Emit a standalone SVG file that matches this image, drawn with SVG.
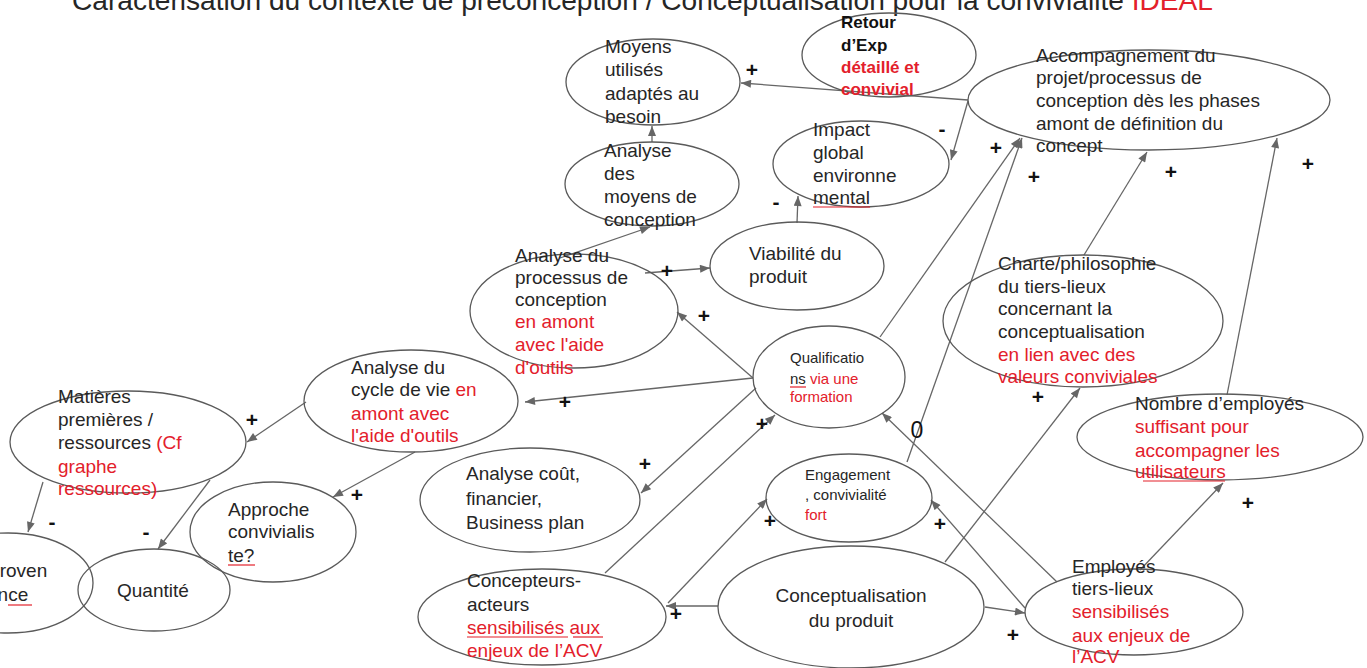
<svg xmlns="http://www.w3.org/2000/svg" width="1367" height="668" viewBox="0 0 1367 668">
<style>
.n ellipse{fill:none;stroke:#5a5a5a;stroke-width:1.3}
.t{font-family:"Liberation Sans",Arial,sans-serif;font-size:19px;fill:#262626}
.sm{font-size:15px}
.b{font-weight:bold;font-size:17px;fill:#111}
.r{fill:#e3202b}
.u{stroke:#e3202b;stroke-width:1.2}
.c line{stroke:#666;stroke-width:1.3;marker-end:url(#a)}
.s{font-family:"Liberation Sans",Arial,sans-serif;font-size:21px;font-weight:bold;fill:#111;text-anchor:middle}
.z{font-family:"Liberation Sans",Arial,sans-serif;font-size:23px;fill:#111;text-anchor:middle}
</style>
<defs>
<marker id="a" viewBox="0 0 10 8" refX="10" refY="4" markerWidth="11" markerHeight="8" markerUnits="userSpaceOnUse" orient="auto"><path d="M0,0 L10,4 L0,8z" fill="#666"/></marker>
</defs>
<rect width="1367" height="668" fill="#fff"/>
<text id="title" class="t" x="72" y="10" style="font-size:28px" textLength="1141" lengthAdjust="spacingAndGlyphs" fill="#111">Caractérisation du contexte de préconception / Conceptualisation pour la convivialité <tspan class="r">IDEAL</tspan></text>

<g id="connectors" class="c">
<line x1="968" y1="100" x2="741" y2="83"/>
<line x1="968" y1="101" x2="951" y2="160"/>
<line x1="652" y1="142" x2="652" y2="126"/>
<line x1="560" y1="258" x2="650" y2="227"/>
<line x1="797" y1="223" x2="798" y2="196"/>
<line x1="645" y1="273" x2="710" y2="268"/>
<line x1="753" y1="378" x2="677" y2="312"/>
<line x1="753" y1="378" x2="525" y2="402"/>
<line x1="756" y1="388" x2="641" y2="493"/>
<line x1="306" y1="402" x2="247" y2="442"/>
<line x1="415" y1="452" x2="333" y2="497"/>
<line x1="43" y1="482" x2="28" y2="532"/>
<line x1="210" y1="480" x2="158" y2="549"/>
<line x1="605" y1="573" x2="775" y2="415"/>
<line x1="718" y1="606" x2="666" y2="606"/>
<line x1="668" y1="603" x2="767" y2="499"/>
<line x1="880" y1="337" x2="1020" y2="138"/>
<line x1="907" y1="462" x2="1022" y2="138"/>
<line x1="1084" y1="255" x2="1147" y2="152"/>
<line x1="1227" y1="395" x2="1277" y2="138"/>
<line x1="945" y1="562" x2="1080" y2="388"/>
<line x1="1140" y1="570" x2="1223" y2="483"/>
<line x1="985" y1="607" x2="1025" y2="613"/>
<line x1="1057" y1="582" x2="882" y2="413"/>
<line x1="1025" y1="608" x2="931" y2="500"/>
</g>

<g id="n-moyens" class="n">
<ellipse cx="653" cy="82" rx="87" ry="43"/>
<text class="t"><tspan x="605" y="53">Moyens</tspan><tspan x="605" y="76">utilisés</tspan><tspan x="605" y="100">adaptés au</tspan><tspan x="605" y="123">besoin</tspan></text>
</g>
<g id="n-retour" class="n">
<ellipse cx="889" cy="55" rx="87" ry="42"/>
<text class="t b"><tspan x="841" y="28">Retour</tspan><tspan x="841" y="51">d’Exp</tspan><tspan x="841" y="73" class="r">détaillé et</tspan><tspan x="841" y="95" class="r">convivial</tspan></text>
</g>
<g id="n-accompagnement" class="n">
<ellipse cx="1149" cy="100" rx="181" ry="50"/>
<text class="t"><tspan x="1036" y="62">Accompagnement du</tspan><tspan x="1036" y="84">projet/processus de</tspan><tspan x="1036" y="107">conception dès les phases</tspan><tspan x="1036" y="130">amont de définition du</tspan><tspan x="1036" y="152">concept</tspan></text>
</g>
<g id="n-analyse-moyens" class="n">
<ellipse cx="652" cy="184" rx="87" ry="42"/>
<text class="t"><tspan x="604" y="157">Analyse</tspan><tspan x="604" y="180">des</tspan><tspan x="604" y="203">moyens de</tspan><tspan x="604" y="226">conception</tspan></text>
</g>
<g id="n-impact" class="n">
<ellipse cx="861" cy="164" rx="88" ry="43"/>
<text class="t"><tspan x="813" y="136">Impact</tspan><tspan x="813" y="159">global</tspan><tspan x="813" y="182">environne</tspan><tspan x="813" y="204">mental</tspan></text>
<line class="u" x1="813" y1="207" x2="870" y2="207"/>
</g>
<g id="n-viabilite" class="n">
<ellipse cx="797" cy="266" rx="87" ry="44"/>
<text class="t"><tspan x="749" y="260">Viabilité du</tspan><tspan x="749" y="283">produit</tspan></text>
</g>
<g id="n-processus" class="n">
<ellipse cx="574" cy="311" rx="104" ry="57"/>
<text class="t"><tspan x="515" y="262">Analyse du</tspan><tspan x="515" y="284">processus de</tspan><tspan x="515" y="306">conception</tspan><tspan x="515" y="328" class="r">en amont</tspan><tspan x="515" y="351" class="r">avec l'aide</tspan><tspan x="515" y="374" class="r">d'outils</tspan></text>
</g>
<g id="n-qualifications" class="n">
<ellipse cx="829" cy="377" rx="76" ry="51"/>
<text class="t sm"><tspan x="790" y="363">Qualificatio</tspan><tspan x="790" y="384">ns<tspan class="r"> via une</tspan></tspan><tspan x="790" y="402" class="r">formation</tspan></text>
<line class="u" x1="790" y1="387" x2="806" y2="387"/>
</g>
<g id="n-cycle" class="n">
<ellipse cx="411" cy="401" rx="107" ry="51"/>
<text class="t"><tspan x="351" y="374">Analyse du</tspan><tspan x="351" y="396">cycle de vie <tspan class="r">en</tspan></tspan><tspan x="351" y="420" class="r">amont avec</tspan><tspan x="351" y="442" class="r">l'aide d'outils</tspan></text>
</g>
<g id="n-charte" class="n">
<ellipse cx="1083" cy="321" rx="140" ry="66"/>
<text class="t"><tspan x="998" y="270">Charte/philosophie</tspan><tspan x="998" y="293">du tiers-lieux</tspan><tspan x="998" y="315">concernant la</tspan><tspan x="998" y="338">conceptualisation</tspan><tspan x="998" y="361" class="r">en lien avec des</tspan><tspan x="998" y="383" class="r">valeurs conviviales</tspan></text>
</g>
<g id="n-nombre" class="n">
<ellipse cx="1220" cy="437" rx="143" ry="43"/>
<text class="t"><tspan x="1135" y="410">Nombre d’employés</tspan><tspan x="1135" y="433" class="r">suffisant pour</tspan><tspan x="1135" y="457" class="r">accompagner les</tspan><tspan x="1135" y="478" class="r">utilisateurs</tspan></text>
<line class="u" x1="1143" y1="481" x2="1225" y2="481"/>
</g>
<g id="n-matieres" class="n">
<ellipse cx="128" cy="442" rx="118" ry="51"/>
<text class="t"><tspan x="58" y="403">Matières</tspan><tspan x="58" y="426">premières /</tspan><tspan x="58" y="449">ressources <tspan class="r">(Cf</tspan></tspan><tspan x="58" y="473" class="r">graphe</tspan><tspan x="58" y="495" class="r">ressources)</tspan></text>
</g>
<g id="n-provenance" class="n">
<ellipse cx="8" cy="583" rx="85" ry="50"/>
<text class="t"><tspan x="-13" y="577">Proven</tspan><tspan x="-13" y="601">ance</tspan></text>
<line class="u" x1="8" y1="605" x2="32" y2="605"/>
</g>
<g id="n-quantite" class="n">
<ellipse cx="154" cy="590" rx="76" ry="41"/>
<text class="t" x="117" y="597">Quantité</text>
</g>
<g id="n-approche" class="n">
<ellipse cx="273" cy="532" rx="83" ry="50"/>
<text class="t"><tspan x="228" y="516">Approche</tspan><tspan x="228" y="538">convivialis</tspan><tspan x="228" y="562">te?</tspan></text>
<line class="u" x1="228" y1="565" x2="255" y2="565"/>
</g>
<g id="n-cout" class="n">
<ellipse cx="530" cy="500" rx="110" ry="52"/>
<text class="t"><tspan x="466" y="480">Analyse coût,</tspan><tspan x="466" y="505">financier,</tspan><tspan x="466" y="529">Business plan</tspan></text>
</g>
<g id="n-engagement" class="n">
<ellipse cx="849" cy="498" rx="83" ry="44"/>
<text class="t sm"><tspan x="805" y="480">Engagement</tspan><tspan x="805" y="500">, convivialité</tspan><tspan x="805" y="520" class="r">fort</tspan></text>
</g>
<g id="n-concepteurs" class="n">
<ellipse cx="542" cy="617" rx="124" ry="48"/>
<text class="t"><tspan x="467" y="587">Concepteurs-</tspan><tspan x="467" y="611">acteurs</tspan><tspan x="467" y="634" class="r">sensibilisés aux</tspan><tspan x="467" y="657" class="r">enjeux de l’ACV</tspan></text>
<line class="u" x1="467" y1="637" x2="568" y2="637"/>
<line class="u" x1="573" y1="637" x2="603" y2="637"/>
</g>
<g id="n-conceptualisation" class="n">
<ellipse cx="851" cy="607" rx="133" ry="61"/>
<text class="t" text-anchor="middle"><tspan x="851" y="602">Conceptualisation</tspan><tspan x="851" y="627">du produit</tspan></text>
</g>
<g id="n-employes" class="n">
<ellipse cx="1134" cy="612" rx="109" ry="43"/>
<text class="t"><tspan x="1072" y="573">Employés</tspan><tspan x="1072" y="595">tiers-lieux</tspan><tspan x="1072" y="618" class="r">sensibilisés</tspan><tspan x="1072" y="642" class="r">aux enjeux de</tspan><tspan x="1072" y="663" class="r">l’ACV</tspan></text>
</g>

<g id="labels">
<text class="s" x="752" y="77">+</text>
<text class="s" x="996" y="155">+</text>
<text class="s" x="1034" y="184">+</text>
<text class="s" x="1171" y="179">+</text>
<text class="s" x="1308" y="171">+</text>
<text class="s" x="667" y="278">+</text>
<text class="s" x="704" y="323">+</text>
<text class="s" x="565" y="409">+</text>
<text class="s" x="252" y="427">+</text>
<text class="s" x="357" y="502">+</text>
<text class="s" x="645" y="471">+</text>
<text class="s" x="762" y="431">+</text>
<text class="s" x="770" y="528">+</text>
<text class="s" x="940" y="531">+</text>
<text class="s" x="676" y="621">+</text>
<text class="s" x="1013" y="642">+</text>
<text class="s" x="1038" y="404">+</text>
<text class="s" x="1248" y="510">+</text>
<text class="s" x="942" y="136">-</text>
<text class="s" x="776" y="209">-</text>
<text class="s" x="52" y="529">-</text>
<text class="s" x="146" y="539">-</text>
<text class="z" x="917" y="438">0</text>
</g>
</svg>
